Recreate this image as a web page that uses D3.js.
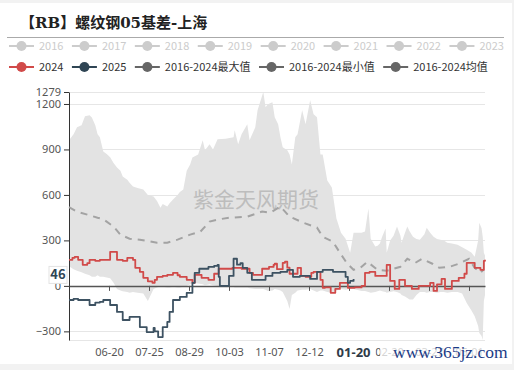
<!DOCTYPE html>
<html>
<head>
<meta charset="utf-8">
<script src="https://cdn.jsdelivr.net/npm/d3@7"></script>
<style>
  body { margin: 0; background: #f2f2f2; }
  svg { display: block; }
  text { font-family: "Noto Sans CJK SC", "Noto Sans", sans-serif; }
</style>
</head>
<body>
<div id="chart"></div>
<script>
// season runs 05-16 .. 05-15 of the next year
const bandDays = ["05-16","05-20","05-23","05-27","05-30","06-03","06-05","06-08","06-10","06-12","06-15","06-18","06-21","06-24","06-27","06-30","07-02","07-06","07-08","07-11","07-15","07-20","07-24","07-29","08-01","08-04","08-06","08-10","08-12","08-15","08-19","08-21","08-24","08-27","08-30","09-01","09-06","09-10","09-12","09-16","09-19","09-23","09-30","10-07","10-08","10-11","10-14","10-19","10-21","10-26","10-28","11-02","11-04","11-06","11-10","11-12","11-15","11-17","11-19","11-23","11-25","11-27","11-30","12-02","12-06","12-09","12-13","12-16","12-19","12-22","12-24","12-28","01-01","01-05","01-09","01-13","01-17","01-20","01-27","01-30","02-02","02-04","02-08","02-10","02-12","02-14","02-17","02-18","02-21","02-24","02-27","03-02","03-03","03-06","03-08","03-10","03-13","03-16","03-19","03-23","03-25","03-28","03-31","04-03","04-06","04-09","04-12","04-16","04-21","04-25","04-29","05-03","05-06","05-09","05-10","05-12","05-13","05-14","05-15"];
const bandMax = [960,1000,1046,1060,1119,1125,1110,1060,1000,980,887,870,848,810,781,760,722,700,680,656,645,636,600,589,560,516,540,523,545,570,600,620,636,760,800,847,867,960,894,934,900,967,970,980,1026,934,1000,1066,960,1046,1159,1279,1179,1199,1212,1112,1066,980,914,894,867,801,980,1000,1159,1066,1225,1132,1112,867,867,695,649,444,351,311,219,351,351,358,510,311,260,265,280,324,378,219,300,330,391,330,285,350,391,360,324,310,305,340,384,350,324,310,305,300,285,280,272,255,238,220,192,300,417,380,324,219,200];
const bandMin = [130,110,100,90,80,70,60,60,70,60,60,55,50,20,-20,-30,-35,-40,-45,-40,-45,-50,-100,-20,-10,0,-5,-10,-10,-5,-10,-10,-5,0,10,20,15,10,5,10,5,0,0,-5,-10,-10,-10,-10,-15,-20,-20,-20,-25,-33,-30,-20,-25,-30,-40,-100,-152,-60,-46,-30,-25,-25,-20,-30,-40,-30,-30,-40,-46,-30,-20,-25,-20,-20,-33,-33,-40,-46,-40,-35,-30,-35,-40,-46,-40,-35,-40,-50,-60,-70,-80,-90,-90,-60,-40,-40,-45,-40,-40,-45,-40,-40,-45,-40,-40,-50,-113,-160,-200,-265,-311,-330,-357,-100,-60];

const avgDays = ["05-16","05-23","06-01","06-10","06-15","06-24","06-30","07-08","07-17","08-01","08-10","08-19","08-30","09-08","09-16","09-25","10-04","10-19","11-01","11-08","11-17","11-25","12-07","12-19","12-24","01-02","01-08","01-14","01-20","01-26","02-01","02-10","02-18","03-02","03-08","03-15","03-21","03-30","04-05","04-14","04-22","05-01","05-06","05-11","05-14"];
const avgVals = [520,490,470,450,440,391,338,311,305,285,285,305,338,358,424,440,450,457,490,483,523,457,417,384,324,291,219,152,106,119,159,106,100,126,179,152,179,146,119,126,146,179,119,86,110];

const days2024 = ["05-16","05-19","05-21","05-24","05-28","06-01","06-03","06-08","06-12","06-18","06-21","06-25","06-27","07-02","07-06","07-11","07-13","07-17","07-20","07-24","07-28","07-30","08-01","08-06","08-10","08-15","08-19","08-21","08-25","08-27","09-01","09-03","09-09","09-15","09-20","09-24","10-06","10-14","10-21","10-24","11-01","11-07","11-11","11-12","11-14","11-19","11-21","11-23","11-25","12-02","12-05","12-09","12-14","12-16","12-22","12-24","12-26","12-31","01-04","01-08","01-13","01-15","01-21","01-27","01-29","01-30","02-03","02-08","02-14","02-18","02-21","02-25","03-01","03-06","03-12","03-18","03-24","03-28","03-31","04-03","04-07","04-10","04-16","04-22","04-27","04-29","05-06","05-11","05-14","05-15"];
const vals2024 = [172,185,192,172,139,150,172,165,172,172,225,225,172,165,185,172,119,93,53,30,20,40,60,66,73,86,70,60,60,40,20,73,53,40,80,113,119,113,86,73,113,125,139,146,110,152,160,120,80,119,66,60,86,93,40,-13,-10,-46,-20,20,20,-13,-10,0,0,86,93,66,66,139,33,-20,40,0,-20,0,0,20,-33,10,46,-20,33,53,80,152,119,106,165,172];

const days2025 = ["05-16","05-20","05-24","05-28","06-03","06-08","06-12","06-15","06-21","06-27","07-02","07-08","07-14","07-17","07-23","07-29","07-30","08-02","08-06","08-10","08-12","08-15","08-21","08-27","09-01","09-03","09-07","09-15","09-20","09-23","09-24","09-25","09-30","10-03","10-07","10-10","10-13","10-15","10-19","10-23","10-29","11-04","11-10","11-17","11-23","11-28","12-04","12-13","12-19","12-24","01-02","01-08","01-13","01-15","01-17","01-20"];
const vals2025 = [-93,-86,-93,-93,-126,-110,-106,-93,-126,-172,-225,-205,-205,-272,-305,-278,-300,-338,-272,-238,-172,-93,-73,-46,20,86,113,125,132,139,60,0,0,66,179,140,150,119,86,40,40,66,86,93,106,60,66,46,93,106,93,93,60,20,33,46];

const xTickDays = ["06-20","07-25","08-29","10-03","11-07","12-12","01-16","02-20","03-27","05-01"];
const yTicks = [-300, 0, 300, 600, 900, 1200, 1279];
const pointerDay = "01-20";
const pointerValue = 46;

const legendRow1 = ["2016","2017","2018","2019","2020","2021","2022","2023"];
const legendRow2 = ["2024","2025","2016-2024最大值","2016-2024最小值","2016-2024均值"];
const legendRow2Colors = ["#d14a49","#2f4554","#666","#666","#666"];

const parseDay = s => {
    const [m, d] = s.split("-").map(Number);
    const year = (m > 5 || (m === 5 && d >= 16)) ? 2024 : 2025;
    return new Date(year, m - 1, d);
};

const width = 514, height = 370;
const svg = d3.select("#chart").append("svg")
    .attr("width", width)
    .attr("height", height);

svg.append("rect").attr("x", 0).attr("y", 3).attr("width", 512).attr("height", 361).attr("fill", "#fff");

// title
svg.append("text")
    .attr("x", 20).attr("y", 28)
    .attr("font-size", 15).attr("font-weight", "bold")
    .style("font-family", "'DejaVu Serif', 'Noto Sans CJK SC', serif")
    .attr("fill", "#222")
    .text("【RB】螺纹钢05基差-上海");
svg.append("line")
    .attr("x1", 7).attr("x2", 504).attr("y1", 37.5).attr("y2", 37.5)
    .attr("stroke", "#aaa");

// legend
function drawLegend(items, colors, y, textColor) {
    let x = 9;
    items.forEach((name, i) => {
        const g = svg.append("g");
        g.append("line")
            .attr("x1", x).attr("x2", x + 25).attr("y1", y).attr("y2", y)
            .attr("stroke", colors[i]).attr("stroke-width", 2);
        g.append("circle")
            .attr("cx", x + 12.5).attr("cy", y).attr("r", 5)
            .attr("fill", colors[i]);
        const t = g.append("text")
            .attr("x", x + 30).attr("y", y + 4)
            .attr("font-size", 11)
            .attr("fill", textColor)
            .text(name);
        x += 30 + t.node().getComputedTextLength() + 8.5;
    });
}
drawLegend(legendRow1, legendRow1.map(() => "#ccc"), 46, "#ccc");
drawLegend(legendRow2, legendRow2Colors, 67, "#333");

// scales
const x = d3.scaleTime()
    .domain([parseDay("05-16"), parseDay("05-15")])
    .range([69, 485]);
const y = d3.scaleLinear()
    .domain([d3.min(bandMin), d3.max(bandMax)])
    .range([340, 92]);

// grid
svg.append("g")
    .selectAll("line")
    .data(yTicks.filter(d => d !== 0).concat([y.domain()[0]]))
    .enter()
    .append("line")
    .attr("x1", 69).attr("x2", 485)
    .attr("y1", d => Math.round(y(d)) + 0.5).attr("y2", d => Math.round(y(d)) + 0.5)
    .attr("stroke", "#e6e6e6");

// band between max and min
const band = bandDays.map((d, i) => ({ date: parseDay(d), max: bandMax[i], min: bandMin[i] }));
svg.append("path")
    .datum(band)
    .attr("fill", "#e3e3e3")
    .attr("d", d3.area().x(d => x(d.date)).y0(d => y(d.min)).y1(d => y(d.max)));

// watermark
svg.append("text")
    .attr("x", 256).attr("y", 207)
    .attr("text-anchor", "middle")
    .attr("font-size", 21)
    .attr("fill", "#b4b4b4")
    .attr("opacity", 0.8)
    .text("紫金天风期货");

// axes
const yAxis = svg.append("g")
    .attr("transform", "translate(69,0)")
    .call(d3.axisLeft(y).tickValues(yTicks).tickSize(5).tickSizeOuter(0).tickFormat(d3.format("d")));
yAxis.select(".domain").attr("stroke", "#333");
yAxis.selectAll(".tick line").attr("stroke", "#333");
yAxis.selectAll("text").attr("font-size", 11).attr("fill", "#555").style("font-family", "'Noto Sans', sans-serif");

const xTickDates = xTickDays.map(parseDay);
const pointerDate = parseDay(pointerDay);
const xAxis = svg.append("g")
    .attr("transform", `translate(0,${y(0)})`)
    .call(d3.axisBottom(x).tickValues(xTickDates).tickSize(5).tickSizeOuter(0).tickFormat(""));
xAxis.select(".domain").attr("stroke", "#555").attr("stroke-width", 1.5);
xAxis.selectAll(".tick line").attr("stroke", "#555");

// tick labels; the one under the pointer label is hidden by it
const fmt = d3.timeFormat("%m-%d");
const xLabels = svg.append("g")
    .attr("transform", "translate(0,340)")
    .call(d3.axisBottom(x).tickValues(xTickDates).tickSize(0).tickPadding(8)
        .tickFormat(d => Math.abs(x(d) - x(pointerDate)) < 30 ? "" : fmt(d)));
xLabels.select(".domain").remove();
xLabels.selectAll("text").attr("font-size", 11).attr("fill", "#555").style("font-family", "'Noto Sans', sans-serif");

// average (dashed)
const avg = avgDays.map((d, i) => ({ date: parseDay(d), v: avgVals[i] }));
svg.append("path")
    .datum(avg)
    .attr("fill", "none")
    .attr("stroke", "#a3a3a3")
    .attr("stroke-width", 2)
    .attr("stroke-dasharray", "7,6")
    .attr("d", d3.line().x(d => x(d.date)).y(d => y(d.v)));

// yearly lines
function drawSeries(days, vals, color) {
    const pts = days.map((d, i) => ({ date: parseDay(d), v: vals[i] }));
    svg.append("path")
        .datum(pts)
        .attr("fill", "none")
        .attr("stroke", color)
        .attr("stroke-width", 1.8)
        .attr("stroke-linejoin", "round")
        .attr("d", d3.line().curve(d3.curveStepAfter).x(d => x(d.date)).y(d => y(d.v)));
}
drawSeries(days2024, vals2024, "#d14a49");
drawSeries(days2025, vals2025, "#3d5262");

// axis pointer labels
const py = y(pointerValue) - 4;
svg.append("rect")
    .attr("x", 49).attr("y", py - 8.5).attr("width", 18).attr("height", 17)
    .attr("fill", "#fff").attr("stroke", "#e3e3e3");
svg.append("text")
    .attr("x", 58).attr("y", py + 4.5)
    .attr("text-anchor", "middle")
    .attr("font-size", 13).attr("font-weight", "bold")
    .attr("fill", "#2f4554")
    .text(pointerValue);

const px = x(pointerDate);
svg.append("rect")
    .attr("x", px - 22).attr("y", 343).attr("width", 44).attr("height", 18)
    .attr("fill", "#fff");
svg.append("text")
    .attr("x", px).attr("y", 357)
    .attr("text-anchor", "middle")
    .attr("font-size", 13).attr("font-weight", "bold")
    .attr("fill", "#2f3b48")
    .style("font-family", "'Noto Sans', sans-serif")
    .text(pointerDay);

// site watermark over the last labels
svg.append("rect")
    .attr("x", 380).attr("y", 343).attr("width", 130).attr("height", 20)
    .attr("fill", "#fff").attr("opacity", 0.75);
svg.append("text")
    .attr("x", 393).attr("y", 358)
    .attr("font-size", 17.5)
    .style("font-family", "'Liberation Serif', serif")
    .attr("fill", "#1b3b86")
    .text("www.365jz.com");
</script>
</body>
</html>
